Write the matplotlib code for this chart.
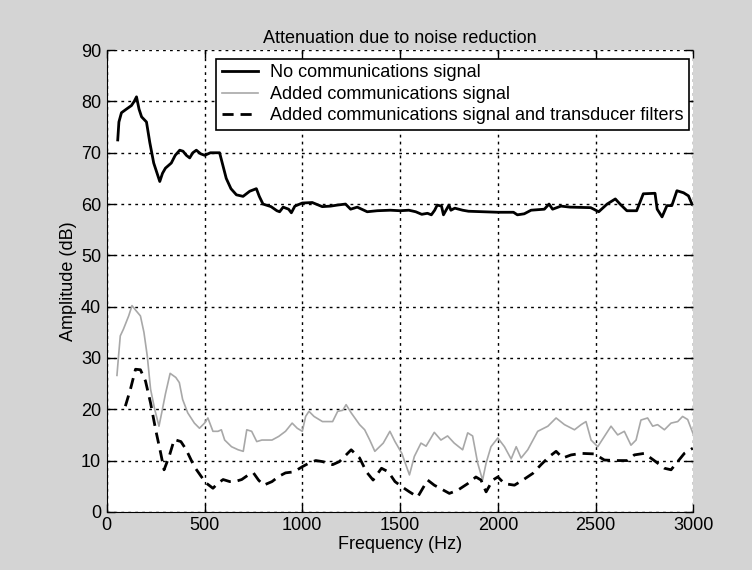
import matplotlib.pyplot as plt

plt.rcParams['font.family'] = ['Liberation Sans', 'DejaVu Sans']

# No communications signal
freq_none = [56, 62, 75, 100, 126, 140, 152, 165, 178, 203, 220, 240, 271, 285, 300, 330, 350, 373,
             390, 407, 424, 440, 458, 480, 501, 530, 560, 577, 611, 635, 663, 697, 731, 765, 780, 799,
             840, 870, 884, 902, 930, 944, 962, 1000, 1051, 1102, 1145, 1179, 1221, 1247, 1281, 1332,
             1383, 1450, 1500, 1545, 1580, 1611, 1640, 1660, 1677, 1690, 1712, 1722, 1735, 1750, 1760,
             1780, 1820, 1850, 2000, 2080, 2100, 2135, 2170, 2238, 2262, 2280, 2323, 2370, 2475, 2516,
             2559, 2601, 2625, 2660, 2710, 2744, 2804, 2815, 2840, 2865, 2890, 2916, 2950, 2975, 2993]
amp_none = [72.5, 76, 77.8, 78.5, 79.2, 80, 80.9, 78.5, 77, 76, 72, 68, 64.4, 66, 67, 68, 69.5, 70.5,
            70.3, 69.5, 69, 70, 70.5, 69.8, 69.5, 70, 70, 70, 65, 63, 61.8, 61.5, 62.5, 63, 61.5, 60,
            59.5, 58.7, 58.5, 59.4, 59, 58.3, 59.6, 60.2, 60.3, 59.5, 59.6, 59.8, 60, 59, 59.4, 58.5,
            58.7, 58.8, 58.7, 58.8, 58.5, 58, 58.2, 57.9, 58.8, 59.8, 59.6, 57.9, 58.8, 59.8, 58.8,
            59.2, 58.8, 58.6, 58.4, 58.4, 57.9, 58.1, 58.8, 59, 60, 59, 59.6, 59.4, 59.3, 58.5,
            60, 61, 60, 58.7, 58.7, 62, 62.1, 59, 57.5, 59.7, 59.7, 62.6, 62.2, 61.6, 60]

# Added communications signal
freq_comm = [52, 58, 69, 85, 112, 129, 150, 172, 190, 207, 224, 245, 267, 284, 300, 324, 353, 371,
             388, 414, 448, 474, 500, 517, 543, 569, 586, 603, 638, 672, 698, 716, 741, 767, 793, 845,
             879, 914, 948, 974, 1000, 1017, 1034, 1060, 1103, 1155, 1181, 1207, 1224, 1250, 1293,
             1319, 1345, 1371, 1414, 1448, 1474, 1509, 1522, 1548, 1573, 1607, 1633, 1675, 1709, 1743,
             1777, 1820, 1846, 1871, 1897, 1922, 1940, 1965, 2000, 2034, 2068, 2094, 2119, 2153, 2204,
             2256, 2298, 2341, 2392, 2426, 2451, 2477, 2511, 2545, 2579, 2613, 2647, 2681, 2707, 2732,
             2766, 2792, 2817, 2852, 2886, 2920, 2945, 2971, 2997]
amp_comm = [26.6, 29.4, 34.3, 35.6, 38.2, 40.2, 39.2, 38.2, 35, 30.4, 23.9, 20, 16.7, 19.9, 23, 27,
            26.2, 25.2, 21.9, 19.3, 17.3, 16.3, 17.3, 18.3, 15.7, 15.7, 16, 14, 12.7, 12.1, 11.8, 16,
            15.7, 13.7, 14, 14, 14.7, 15.7, 17.3, 16.3, 15.7, 18.6, 19.6, 18.6, 17.6, 17.6, 19.6, 19.8,
            20.9, 19.3, 17, 16, 14, 11.8, 13.4, 15.7, 13.7, 11.4, 10, 7.2, 10.8, 13.4, 12.8, 15.5, 14,
            14.8, 13.4, 12.1, 15.4, 14.8, 9.5, 6.2, 9.5, 12.7, 14.4, 12.7, 10.3, 12.7, 10.5, 12.1, 15.7,
            16.7, 18.3, 17, 16, 17, 17.6, 14, 12.7, 14.7, 16.7, 15, 15.7, 13, 14, 17.9,
            18.3, 16.7, 17, 16, 17.3, 17.6, 18.6, 18, 15.4]

# Added communications signal and transducer filters
freq_filt = [95, 121, 147, 172, 198, 224, 250, 276, 293, 319, 345, 379, 405, 448, 483, 509, 543, 569,
             595, 629, 655, 690, 724, 750, 776, 802, 845, 879, 914, 957, 1000, 1034, 1069, 1103, 1155,
             1190, 1224, 1250, 1293, 1328, 1362, 1405, 1440, 1474, 1509, 1548, 1590, 1641, 1675, 1709,
             1752, 1794, 1846, 1888, 1914, 1940, 1974, 2000, 2034, 2085, 2128, 2179, 2221, 2264, 2298,
             2332, 2375, 2426, 2494, 2545, 2613, 2664, 2698, 2749, 2800, 2852, 2886, 2920, 2954, 2997]
amp_filt = [20.6, 23.9, 27.8, 27.7, 25.5, 21.2, 16, 11.4, 8.2, 10.8, 14.1, 13.7, 12.2, 8.8, 6.9, 5.6,
            4.6, 5.6, 6.3, 5.9, 5.9, 6.3, 7.2, 7.6, 6.2, 5.2, 5.9, 6.9, 7.6, 7.8, 8.8, 9.5, 10, 9.8,
            9.2, 9.8, 11.1, 12.1, 10.5, 7.8, 6.2, 8.5, 7.8, 5.9, 4.9, 3.9, 2.9, 6.2, 5.2, 4.5, 3.6,
            4.2, 5.5, 6.8, 6.2, 3.9, 6.2, 6.8, 5.5, 5.2, 6.2, 7.5, 9.2, 10.8, 11.8, 10.5, 11.1, 11.4,
            11.3, 10.1, 10, 10, 11.1, 11.4, 10, 8.5, 8.2, 9.8, 11.4, 12.4]

fig = plt.figure(figsize=(7.52, 5.70), dpi=100, facecolor='#d4d4d4')
ax = fig.add_axes([0.142, 0.102, 0.780, 0.810])

ax.plot(freq_none, amp_none, color='black', linewidth=2, label='No communications signal')
ax.plot(freq_comm, amp_comm, color='#a8a8a8', linewidth=1.2, label='Added communications signal')
ax.plot(freq_filt, amp_filt, color='black', linewidth=2, linestyle=(0, (4, 2.5)),
        label='Added communications signal and transducer filters')

ax.set_xlim(0, 3000)
ax.set_ylim(0, 90)
ax.set_xticks(range(0, 3001, 500))
ax.set_yticks(range(0, 91, 10))
ax.grid(True, color='black', linestyle=(0, (2, 3)), linewidth=1)
ax.spines['top'].set_visible(False)
ax.spines['right'].set_visible(False)
ax.tick_params(direction='in', length=6, top=True, right=True, labelsize=13, width=1, pad=4)

ax.set_title('Attenuation due to noise reduction', fontsize=13, pad=5)
ax.set_xlabel('Frequency (Hz)', fontsize=13, labelpad=1)
ax.set_ylabel('Amplitude (dB)', fontsize=13, labelpad=3)

leg = ax.legend(loc='upper right', bbox_to_anchor=(0.993, 0.981), borderaxespad=0, fontsize=13,
                fancybox=False, framealpha=1, edgecolor='black', labelspacing=0.25,
                handlelength=2.0, handletextpad=0.7, borderpad=0.3)
leg.get_frame().set_linewidth(1.2)

plt.savefig('out.png', dpi=100, facecolor=fig.get_facecolor())
